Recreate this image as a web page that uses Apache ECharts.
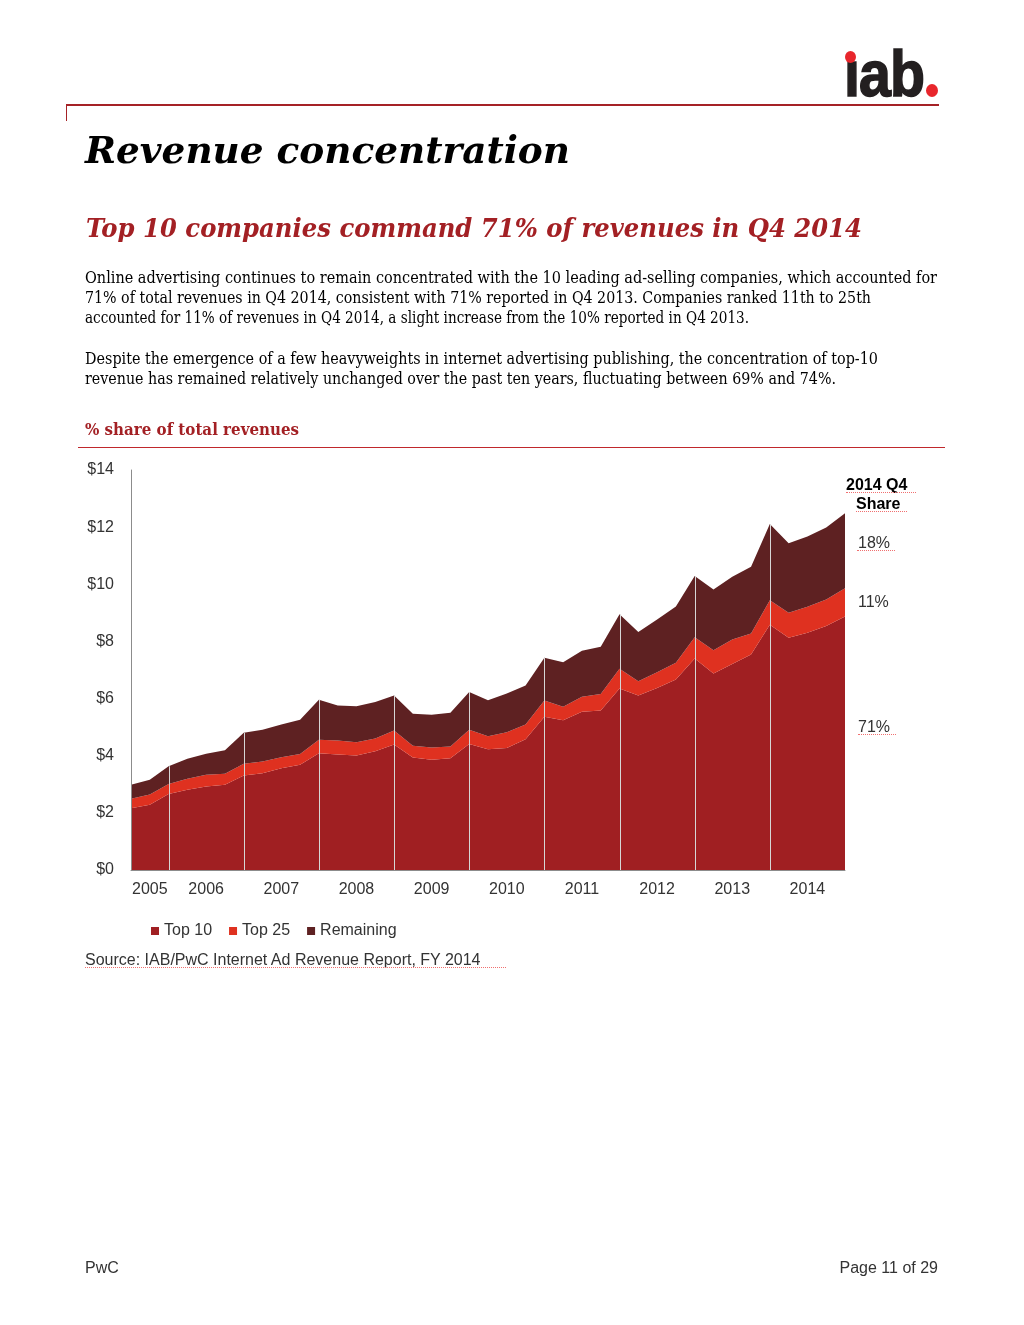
<!DOCTYPE html>
<html>
<head>
<meta charset="utf-8">
<script src="https://cdn.jsdelivr.net/npm/echarts/dist/echarts.min.js"></script>
<style>
  html, body { margin: 0; padding: 0; background: #fff; }
  #page { position: relative; width: 1024px; height: 1325px; overflow: hidden; background: #fff; }
  #chart { position: absolute; left: 0; top: 0; width: 1024px; height: 1325px; }
  .t { position: absolute; white-space: nowrap; transform-origin: 0 0; }
  .rule { position: absolute; }
  .sq { position: absolute; border-bottom: 1px dotted #f07070; height: 0; }
</style>
</head>
<body>
<div id="page">
  <div id="chart"></div>
</div>
<script>
// ---------------- DATA ----------------
const categories = [
  "2005 Q2","2005 Q3","2005 Q4",
  "2006 Q1","2006 Q2","2006 Q3","2006 Q4",
  "2007 Q1","2007 Q2","2007 Q3","2007 Q4",
  "2008 Q1","2008 Q2","2008 Q3","2008 Q4",
  "2009 Q1","2009 Q2","2009 Q3","2009 Q4",
  "2010 Q1","2010 Q2","2010 Q3","2010 Q4",
  "2011 Q1","2011 Q2","2011 Q3","2011 Q4",
  "2012 Q1","2012 Q2","2012 Q3","2012 Q4",
  "2013 Q1","2013 Q2","2013 Q3","2013 Q4",
  "2014 Q1","2014 Q2","2014 Q3","2014 Q4"
];
const top10 = [2.16,2.28,2.66,2.81,2.92,2.98,3.31,3.39,3.56,3.68,4.09,4.04,4.01,4.16,4.39,3.94,3.86,3.91,4.41,4.23,4.27,4.58,5.36,5.24,5.54,5.58,6.35,6.11,6.37,6.67,7.40,6.88,7.21,7.54,8.58,8.13,8.30,8.54,8.87];
const top25 = [0.33,0.36,0.35,0.38,0.41,0.39,0.41,0.41,0.39,0.38,0.47,0.49,0.46,0.44,0.49,0.41,0.43,0.41,0.50,0.45,0.55,0.51,0.57,0.47,0.52,0.58,0.69,0.50,0.55,0.58,0.75,0.81,0.86,0.74,0.86,0.87,0.91,0.93,0.99];
const remaining = [0.49,0.52,0.62,0.70,0.74,0.82,1.08,1.11,1.14,1.20,1.40,1.23,1.26,1.28,1.23,1.12,1.14,1.18,1.32,1.26,1.36,1.37,1.50,1.56,1.61,1.65,1.91,1.72,1.85,1.97,2.14,2.13,2.19,2.33,2.67,2.44,2.46,2.52,2.63];
const seriesNames = ["Top 10", "Top 25", "Remaining"];
const yearLabelIdx = [1, 4, 8, 12, 16, 20, 24, 28, 32, 36];
const dividerIdx = [2, 6, 10, 14, 18, 22, 26, 30, 34];
const yTicks = [0, 2, 4, 6, 8, 10, 12, 14];
const shareTitle = ["2014 Q4", "Share"];
const shareLabels = ["18%", "11%", "71%"];

// ---------------- PAGE TEXT ----------------
const serif = '"DejaVu Serif", "Liberation Serif", serif';
const sans = '"Liberation Sans", Arial, sans-serif';
const texts = [
  { s: "Revenue concentration", x: 85, top: 131, fs: 38, lh: 38, w: 485, f: serif, wt: 700, it: true, c: "#000" },
  { s: "Top 10 companies command 71% of revenues in Q4 2014", x: 86, top: 215, fs: 26, lh: 26, w: 776, f: serif, wt: 700, it: true, c: "#A32024" },
  { s: "Online advertising continues to remain concentrated with the 10 leading ad-selling companies, which accounted for", x: 85, top: 268, fs: 16, lh: 20, w: 852, f: serif, c: "#000" },
  { s: "71% of total revenues in Q4 2014, consistent with 71% reported in Q4 2013. Companies ranked 11th to 25th", x: 85, top: 288, fs: 16, lh: 20, w: 786, f: serif, c: "#000" },
  { s: "accounted for 11% of revenues in Q4 2014, a slight increase from the 10% reported in Q4 2013.", x: 85, top: 308, fs: 16, lh: 20, w: 664, f: serif, c: "#000" },
  { s: "Despite the emergence of a few heavyweights in internet advertising publishing, the concentration of top-10", x: 85, top: 349, fs: 16, lh: 20, w: 793, f: serif, c: "#000" },
  { s: "revenue has remained relatively unchanged over the past ten years, fluctuating between 69% and 74%.", x: 85, top: 369, fs: 16, lh: 20, w: 751, f: serif, c: "#000" },
  { s: "% share of total revenues", x: 85, top: 420, fs: 16, lh: 20, w: 214, f: serif, wt: 700, c: "#A32024" },
  { s: shareTitle[0], x: 846, top: 476, fs: 16, lh: 18, f: sans, wt: 700, c: "#000", ul: [846, 492, 70] },
  { s: shareTitle[1], x: 856, top: 495, fs: 16, lh: 18, f: sans, wt: 700, c: "#000", ul: [856, 511, 51] },
  { s: shareLabels[0], x: 858, top: 534, fs: 16, lh: 18, f: sans, c: "#333", ul: [857, 550, 38] },
  { s: shareLabels[1], x: 858, top: 593, fs: 16, lh: 18, f: sans, c: "#333" },
  { s: shareLabels[2], x: 858, top: 718, fs: 16, lh: 18, f: sans, c: "#333", ul: [858, 734, 38] },
  { s: "Source: IAB/PwC Internet Ad Revenue Report, FY 2014", x: 85, top: 951, fs: 16, lh: 18, f: sans, c: "#333", ul: [85, 967, 421] },
  { s: "PwC", x: 85, top: 1259, fs: 16, lh: 18, f: sans, c: "#333" },
  { s: "Page 11 of 29", right: 86, top: 1259, fs: 16, lh: 18, f: sans, c: "#333" }
];

const page = document.getElementById('page');
function addRule(x, y, w, h, color) {
  const d = document.createElement('div');
  d.className = 'rule';
  Object.assign(d.style, { left: x + 'px', top: y + 'px', width: w + 'px', height: h + 'px', background: color });
  page.appendChild(d);
}
// header rule + tick, sub rule
addRule(66, 104, 873, 2, '#A52226');
addRule(66, 104, 1, 17, '#A52226');
addRule(78, 447, 867, 1, '#C0282C');

texts.forEach(t => {
  const d = document.createElement('div');
  d.className = 't';
  d.textContent = t.s;
  Object.assign(d.style, {
    top: t.top + 'px', fontSize: t.fs + 'px', lineHeight: t.lh + 'px', fontFamily: t.f,
    fontWeight: t.wt || 400, fontStyle: t.it ? 'italic' : 'normal', color: t.c
  });
  if (t.right !== undefined) { d.style.right = t.right + 'px'; d.style.transformOrigin = '100% 0'; }
  else d.style.left = t.x + 'px';
  page.appendChild(d);
  if (t.w) {
    const nat = d.getBoundingClientRect().width;
    d.style.transform = 'scaleX(' + (t.w / nat) + ')';
  }
  if (t.ul) {
    const u = document.createElement('div');
    u.className = 'sq';
    Object.assign(u.style, { left: t.ul[0] + 'px', top: t.ul[1] + 'px', width: t.ul[2] + 'px' });
    page.appendChild(u);
  }
});

// logo
(function () {
  const d = document.createElement('div');
  d.className = 't';
  d.textContent = '\u0131ab';
  Object.assign(d.style, { left: '844px', top: '42px', fontSize: '64px', lineHeight: '64px', fontFamily: sans, fontWeight: 700, color: '#231F20', letterSpacing: '-1px', webkitTextStroke: '1.6px #231F20' });
  page.appendChild(d);
  const nat = d.getBoundingClientRect().width;
  d.style.transform = 'scaleX(' + (80 / nat) + ')';
  const dot = (cx, cy, w, h) => {
    const e = document.createElement('div');
    Object.assign(e.style, { position: 'absolute', left: (cx - w / 2) + 'px', top: (cy - h / 2) + 'px', width: w + 'px', height: h + 'px', borderRadius: '50%', background: '#E8262C' });
    page.appendChild(e);
  };
  dot(850.5, 57, 11, 12);
  dot(932, 90, 12, 13);
})();

// ---------------- CHART ----------------
const totals = top10.map((v, i) => v + top25[i] + remaining[i]);
const colors = ['#A01F22', '#DF3120', '#5E2122'];
const chart = echarts.init(document.getElementById('chart'), null, { renderer: 'canvas' });
const areaSeries = [top10, top25, remaining].map((arr, k) => ({
  name: seriesNames[k],
  type: 'line',
  stack: 'total',
  data: arr,
  symbol: 'none',
  lineStyle: { width: 0, opacity: 0 },
  areaStyle: { color: colors[k], opacity: 1 },
  itemStyle: { color: colors[k] },
  emphasis: { disabled: true },
  z: 2
}));
chart.setOption({
  animation: false,
  textStyle: { fontFamily: 'Liberation Sans', color: '#333' },
  grid: { left: 131, top: 470, width: 714, height: 400, containLabel: false },
  legend: {
    data: seriesNames,
    left: 146, top: 918,
    icon: 'rect', itemWidth: 8, itemHeight: 8, itemGap: 17,
    textStyle: { fontSize: 16, color: '#333', fontFamily: 'Liberation Sans' },
    selectedMode: false
  },
  xAxis: {
    type: 'category',
    data: categories,
    boundaryGap: false,
    z: 10,
    axisLine: { show: true, lineStyle: { color: '#8c8c8c', width: 1 } },
    axisTick: { show: false },
    splitLine: { show: false },
    axisLabel: {
      interval: (idx) => yearLabelIdx.includes(idx),
      formatter: (val) => val.slice(0, 4),
      fontSize: 16, color: '#333', margin: 12, fontFamily: 'Liberation Sans'
    }
  },
  yAxis: {
    type: 'value',
    min: yTicks[0], max: yTicks[yTicks.length - 1], interval: 2,
    z: 10,
    axisLine: { show: true, lineStyle: { color: '#8c8c8c', width: 1 } },
    axisTick: { show: false },
    splitLine: { show: false },
    axisLabel: { formatter: (v) => '$' + v, fontSize: 16, color: '#333', margin: 17, fontFamily: 'Liberation Sans' }
  },
  series: areaSeries.concat([{
    type: 'custom',
    name: 'dividers',
    silent: true,
    z: 5,
    data: dividerIdx.map(i => [i, totals[i]]),
    renderItem: (params, api) => {
      const p0 = api.coord([api.value(0), 0]);
      const p1 = api.coord([api.value(0), api.value(1)]);
      const x = Math.round(p0[0]) + 0.5;
      return { type: 'line', shape: { x1: x, y1: p0[1], x2: x, y2: p1[1] }, style: { stroke: '#d6d6d6', lineWidth: 1 } };
    }
  }])
});
</script>
</body>
</html>
